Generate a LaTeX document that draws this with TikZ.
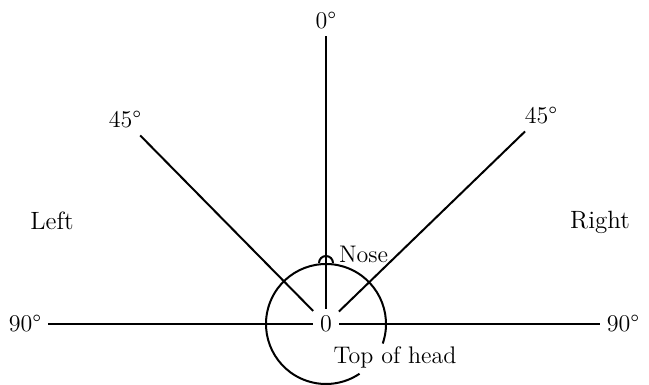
\documentclass[tikz,border=0pt]{standalone}
\usepackage{fontspec}
\usepackage{tikz}
\usetikzlibrary{positioning}

\begin{document}
\begin{tikzpicture}[
      x=0.5pt, y=0.5pt,
      line width=1pt,
      lbl/.style={inner sep=3pt, font=\fontsize{12}{14}\selectfont},
      side/.style={inner sep=3pt, font=\fontsize{12.5}{14}\selectfont}
    ]
    \useasboundingbox (0,0) rectangle (649,385);

    \node[lbl] (zero) at (326,61) {0};
    \node[lbl] (deg0) at (326,364) {0°};
    \node[lbl] (ul45) at (125,265) {45°};
    \node[lbl] (ur45) at (541,269) {45°};
    \node[lbl] (l90) at (25,61) {90°};
    \node[lbl] (r90) at (623,61) {90°};
    \node[side] (left) at (52,164) {Left};
    \node[side] (right) at (600,163) {Right};

    % head, seen from above
    \draw (zero.center) ++(-19:60) arc[start angle=-19, end angle=304, radius=60];
    \draw (326,122) ++(7,0) arc[start angle=0, end angle=180, radius=7];
    \node[lbl, anchor=west] (nose) at (332,131) {Nose};
    \node[lbl] (crown) at (395,28) {Top of head};

    \draw (deg0) -- (zero);
    \draw (ul45) -- (zero);
    \draw (ur45) -- (zero);
    \draw (l90) -- (zero);
    \draw (r90) -- (zero);
  \end{tikzpicture}
\end{document}
